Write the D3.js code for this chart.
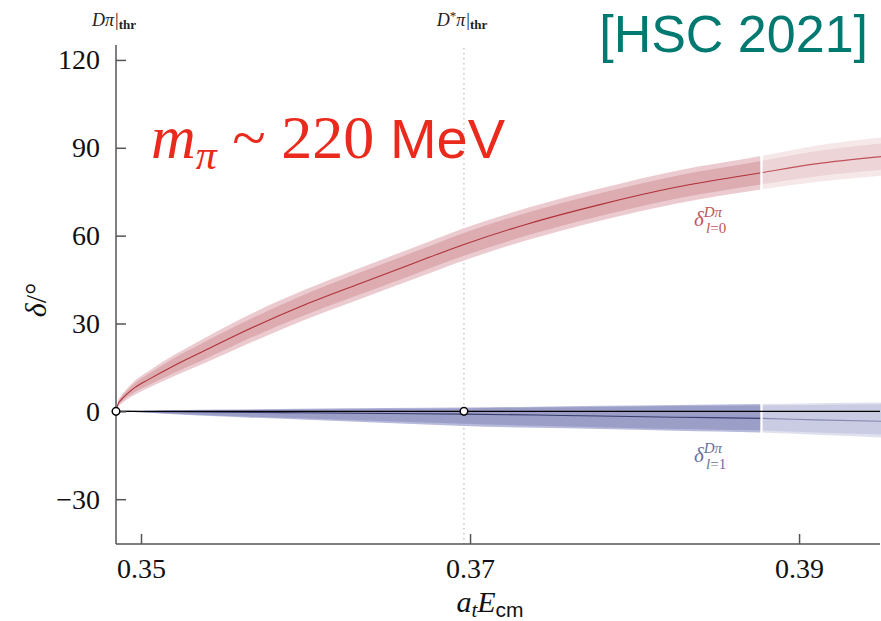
<!DOCTYPE html>
<html><head><meta charset="utf-8">
<script src="https://cdn.jsdelivr.net/npm/d3@7"></script>
<style>body{margin:0;background:#fff}svg{display:block}</style>
</head><body><svg id="c" width="881" height="621"></svg>
<script>
// ---- data ----
const xTicks = [0.35, 0.37, 0.39];
const yTicks = [-30, 0, 30, 60, 90, 120];
const thrDpi = 0.34848;      // D pi threshold
const thrDstarPi = 0.36963;  // D* pi threshold
const splitE = 0.3877;       // end of fit range
// l=0 (red)
const E0      = [0.34848,0.3486,0.3488,0.3491,0.3496,0.3505,0.3520,0.3536,0.3560,0.3597,0.3630,0.3665,0.36963,0.3735,0.3779,0.3825,0.3877,0.3910,0.3950];
const mid0    = [0,2.4,4.0,5.7,8.0,11.0,15.6,20,26.6,35.8,43.0,50.4,57,64,70.6,76.5,81.5,84.5,87];
const inLo0   = [0,1.9,3.2,4.6,6.5,9.1,13.1,17.1,23.4,32.3,39.3,46.6,53.1,60.1,66.7,72.6,77.5,80.2,82.5];
const inHi0   = [0,2.9,4.8,6.8,9.5,12.9,18.1,22.9,29.8,39.3,46.7,54.2,60.9,67.9,74.5,80.4,85.5,88.8,91.5];
const outLo0  = [0,1.5,2.6,3.9,5.6,8.1,12.0,15.8,21.8,30.7,37.7,45.0,51.5,58.5,65.1,70.9,75.8,78.3,80.5];
const outHi0  = [0,3.3,5.4,7.5,10.4,13.9,19.2,24.2,31.4,40.9,48.3,55.8,62.5,69.5,76.1,82.1,87.2,90.7,93.5];
// l=1 (blue)
const E1      = [0.34848,0.3500,0.3520,0.3550,0.3597,0.3650,0.36963,0.3740,0.3779,0.3825,0.3877,0.3910,0.3950];
const mid1    = [0,-0.05,-0.12,-0.25,-0.5,-0.75,-0.95,-1.25,-1.6,-2.0,-2.4,-2.9,-3.4];
const inLo1   = [0,-0.3,-0.8,-1.5,-2.4,-3.4,-4.2,-4.9,-5.4,-6.0,-6.5,-7.2,-7.9];
const inHi1   = [0,0.1,0.25,0.4,0.6,0.9,1.0,1.3,1.5,1.8,2.0,2.2,2.4];
const outLo1  = [0,-0.4,-1.0,-1.8,-2.8,-4.0,-5.0,-5.6,-6.0,-6.6,-7.2,-8.0,-8.9];
const outHi1  = [0,0.15,0.35,0.6,0.9,1.15,1.3,1.6,1.9,2.2,2.5,2.8,3.0];

// ---- layout ----
const svg = d3.select("#c");
const x = d3.scaleLinear().domain([thrDpi, 0.39492]).range([116, 880]);
const y = d3.scaleLinear().domain([-45.3, 125.1]).range([544, 45]);
const serif = "'Liberation Serif','Times New Roman',serif";
const sans = "'Liberation Sans',Arial,Helvetica,sans-serif";

const defs = svg.append("defs");
defs.append("clipPath").attr("id","seg1").append("rect")
  .attr("x", x(thrDpi)).attr("y", 0).attr("width", x(splitE)-1 - x(thrDpi)).attr("height", 621);
defs.append("clipPath").attr("id","seg2").append("rect")
  .attr("x", x(splitE)+1.5).attr("y", 0).attr("width", 881 - x(splitE)).attr("height", 621);

function band(E, lo, hi){
  return d3.area().curve(d3.curveMonotoneX)
    .x((d,i)=>x(E[i])).y0((d,i)=>y(lo[i])).y1((d,i)=>y(hi[i]))(E);
}
function line(E, m){
  return d3.line().curve(d3.curveMonotoneX).x((d,i)=>x(E[i])).y((d,i)=>y(m[i]))(E);
}

// dotted threshold line
svg.append("line").attr("x1", x(thrDstarPi)).attr("x2", x(thrDstarPi))
  .attr("y1", 48).attr("y2", 544).attr("stroke","#bbb").attr("stroke-width",1.2)
  .attr("stroke-dasharray","1.5,3.5");

const segs = [
  {clip:"seg1", r:["#ebcbcf","#dcacb1"], b:["#b7badb","#9b9ec6"], rl:"#b03038", bl:"#3a3e6e"},
  {clip:"seg2", r:["#f6e7e9","#ecd4d7"], b:["#dfe1ef","#c9cce3"], rl:"#c0525a", bl:"#858aaf"}
];
segs.forEach(s=>{
  const g = svg.append("g").attr("clip-path",`url(#${s.clip})`);
  g.append("path").attr("d", band(E0,outLo0,outHi0)).attr("fill", s.r[0]);
  g.append("path").attr("d", band(E0,inLo0,inHi0)).attr("fill", s.r[1]);
  g.append("path").attr("d", band(E1,outLo1,outHi1)).attr("fill", s.b[0]);
  g.append("path").attr("d", band(E1,inLo1,inHi1)).attr("fill", s.b[1]);
  g.append("path").attr("d", line(E0,mid0)).attr("fill","none").attr("stroke", s.rl).attr("stroke-width",1.1);
  g.append("path").attr("d", line(E1,mid1)).attr("fill","none").attr("stroke", s.bl).attr("stroke-width",1.1);
});

// zero line
svg.append("line").attr("x1", x(thrDpi)).attr("x2", 880).attr("y1", y(0)).attr("y2", y(0))
  .attr("stroke","#000").attr("stroke-width",1.3);

// axes
const axL = svg.append("g").attr("transform",`translate(${x(thrDpi)},0)`)
  .call(d3.axisLeft(y).tickValues(yTicks).tickSize(-10).tickPadding(16)
        .tickFormat(d=> d<0 ? "\u2212"+Math.abs(d) : d));
const axB = svg.append("g").attr("transform",`translate(0,${y.range()[0]})`)
  .call(d3.axisBottom(x).tickValues(xTicks).tickSize(-10).tickPadding(15)
        .tickFormat(d3.format(".2f")));
[axL, axB].forEach(a=>{
  a.select(".domain").attr("stroke","#555").attr("stroke-width",1.5);
  a.selectAll(".tick line").attr("stroke","#555").attr("stroke-width",1.5);
  a.selectAll(".tick text").attr("font-family", serif).attr("font-size", 28).attr("fill","#111");
});
axL.select(".domain").attr("d", `M0,${y.range()[1]}V${y.range()[0]}`);
axB.select(".domain").attr("d", `M${x(thrDpi)},0H880`);
axB.selectAll(".tick text").attr("dy","0.68em");

// threshold points
[[thrDpi,0],[thrDstarPi,0]].forEach(p=>{
  svg.append("circle").attr("cx", x(p[0])).attr("cy", y(p[1])).attr("r",3.8)
    .attr("fill","#fff").attr("stroke","#000").attr("stroke-width",1.5);
});

// axis labels
svg.append("text").attr("transform","translate(46,300) rotate(-90)").attr("text-anchor","middle")
  .attr("font-family", serif).attr("font-size", 30).attr("fill","#111")
  .html('<tspan font-style="italic">δ</tspan>/°');
const xl = svg.append("text").attr("x", 490).attr("y", 612).attr("text-anchor","middle")
  .attr("font-family", serif).attr("font-size", 30).attr("fill","#111");
xl.append("tspan").attr("font-style","italic").text("a");
xl.append("tspan").attr("font-style","italic").attr("font-size",21).attr("dy",5).text("t");
xl.append("tspan").attr("font-style","italic").attr("dy",-5).text("E");
xl.append("tspan").attr("font-family", sans).attr("font-size",21).attr("dy",5).text("cm");

// threshold labels
function thrLabel(cx, star){
  const t = svg.append("text").attr("x", cx).attr("y", 26).attr("text-anchor","middle")
    .attr("font-family", serif).attr("font-size", 18).attr("fill","#222");
  t.append("tspan").attr("font-style","italic").text("D");
  if(star) t.append("tspan").attr("font-size",13).attr("dy",-6).text("*");
  t.append("tspan").attr("font-style","italic").attr("dy", star?6:0).text("π");
  t.append("tspan").attr("dx",1).text("|");
  t.append("tspan").attr("font-size",13).attr("dy",3).attr("font-weight","bold").text("thr");
}
thrLabel(114, false);
thrLabel(462, true);

// HSC label
svg.append("text").attr("x", 868).attr("y", 52).attr("text-anchor","end")
  .attr("font-family", sans).attr("font-size", 52).attr("fill","#007a70").text("[HSC 2021]");

// m_pi label
const mt = svg.append("text").attr("x", 151).attr("y", 158).attr("fill","#ea2a1c")
  .attr("font-family", serif).attr("font-size", 62);
mt.append("tspan").attr("font-style","italic").text("m");
mt.append("tspan").attr("font-style","italic").attr("font-size",42).attr("dy",11).text("π");
mt.append("tspan").attr("dy",-11).text(" ~ 220 ");
mt.append("tspan").attr("font-family", sans).attr("font-size",56).text("MeV");

// curve labels
function deltaLabel(cx, cy, l, col){
  const t = svg.append("text").attr("x", cx).attr("y", cy).attr("font-family", serif)
    .attr("font-size", 21).attr("fill", col);
  t.append("tspan").attr("font-style","italic").text("δ");
  t.append("tspan").attr("font-style","italic").attr("font-size",15).attr("dy",-9).text("Dπ");
  t.append("tspan").attr("x", cx+12).attr("dy",16).attr("font-size",15)
    .html('<tspan font-style="italic">l</tspan>=' + l);
}
deltaLabel(694, 226, 0, "#c0545a");
deltaLabel(694, 462, 1, "#6b6f9c");
</script></body></html>
